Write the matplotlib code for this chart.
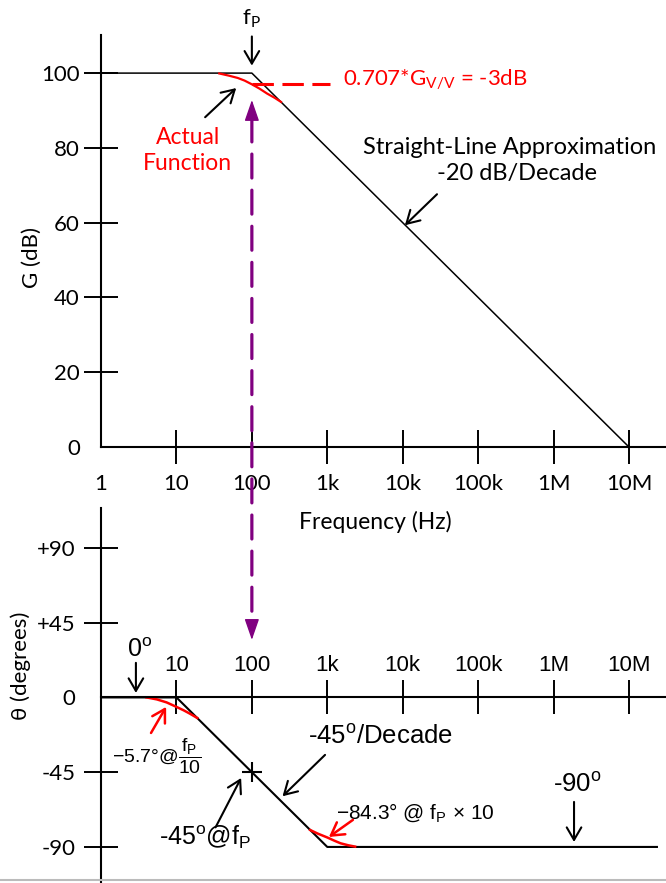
import matplotlib
matplotlib.use('Agg')
import matplotlib.pyplot as plt
from matplotlib.patches import ConnectionPatch
from matplotlib.lines import Line2D
from matplotlib.ticker import NullLocator

plt.rcParams['font.family'] = ['Lato', 'DejaVu Sans']
plt.rcParams['mathtext.fontset'] = 'custom'
plt.rcParams['mathtext.rm'] = 'Liberation Sans'
plt.rcParams['mathtext.it'] = 'Liberation Sans:italic'
plt.rcParams['mathtext.sf'] = 'Lato'

# frequency axis
freq_ticks = [1, 10, 100, 1e3, 1e4, 1e5, 1e6, 1e7]
freq_labels = ['1', '10', '100', '1k', '10k', '100k', '1M', '10M']
f_pole = 100

# magnitude: straight-line approximation and actual response near the pole
gain_ticks = [0, 20, 40, 60, 80, 100]
gain_f = [1, 100, 1e7]
gain_db = [100, 100, 0]
actual_f = [37, 50, 65, 80, 100, 125, 160, 200, 243]
actual_db = [99.9, 99.3, 98.7, 98.0, 97.0, 95.9, 94.5, 93.4, 92.3]
minus3db = 97

# phase: straight-line approximation and actual response at the corners
phase_ticks = [90, 45, 0, -45, -90]
phase_labels = ['+90', '+45', '0', '-45', '-90']
phase_f = [1, 10, 1000, 2.35e7]
phase_deg = [0, 0, -90, -90]
low_f = [4, 5.5, 7.4, 10, 12.5, 15.1, 18.9]
low_deg = [0, -1.2, -3.0, -5.7, -7.8, -9.8, -12.4]
high_f = [593, 750, 1000, 1250, 1500, 1900, 2340]
high_deg = [-79.8, -82.0, -84.3, -86.3, -87.8, -89.0, -89.8]

ARIAL = 'Liberation Sans'
red = '#ff0000'
purple = '#800080'

fig = plt.figure(figsize=(6.66, 8.83), dpi=100)
ax1 = fig.add_axes([0.1517, 0.4938, 0.8483, 0.4666])
ax2 = fig.add_axes([0.1517, 0.0, 0.8483, 0.4247])
ax2.patch.set_visible(False)

xlim = (1, 3.1e7)

# ---- magnitude plot ----
ax1.plot(gain_f, gain_db, color='black', lw=1.1)
ax1.plot(actual_f, actual_db, color=red, lw=1.6)
ax1.plot([f_pole, 1100], [minus3db, minus3db], color=red, lw=2.2, dashes=(7, 2.8))
ax1.set_xscale('log')
ax1.set_xlim(*xlim)
ax1.set_ylim(0, 110.2)
ax1.xaxis.set_minor_locator(NullLocator())
ax1.set_xticks(freq_ticks)
ax1.set_xticklabels(freq_labels, fontsize=16)
ax1.set_yticks(gain_ticks)
ax1.set_yticklabels([str(v) for v in gain_ticks], fontsize=16)
ax1.tick_params(axis='x', direction='inout', length=24.5, width=1.4, pad=7)
ax1.tick_params(axis='y', direction='inout', length=24.5, width=1.4, pad=3)
ax1.xaxis.get_major_ticks()[0].tick1line.set_visible(False)
ax1.yaxis.get_major_ticks()[0].tick1line.set_visible(False)
for s in ['top', 'right']:
    ax1.spines[s].set_visible(False)
for s in ['left', 'bottom']:
    ax1.spines[s].set_linewidth(1.5)
ax1.set_xlabel('Frequency (Hz)', fontsize=16.5)
ax1.xaxis.set_label_coords(0.485, -0.155)
ax1.set_ylabel('G (dB)', fontsize=16)
ax1.yaxis.set_label_coords(-0.104, 0.46)

arrow_black = dict(arrowstyle='->,head_length=0.6,head_width=0.35', lw=1.5,
                   color='black', mutation_scale=15, shrinkA=0, shrinkB=0)
arrow_red = dict(arrowstyle='->,head_length=0.6,head_width=0.35', lw=1.8,
                 color=red, mutation_scale=15, shrinkA=0, shrinkB=0)

ax1.text(f_pole, 114.5, 'f$_\\mathsf{P}$', fontsize=16, ha='center', va='center')
ax1.annotate('', xy=(f_pole, 102.0), xytext=(f_pole, 109.8), annotation_clip=False,
             arrowprops=arrow_black)
ax1.text(1620, 98.4, '0.707*G$_\\mathsf{V/V}$ = -3dB', color=red, fontsize=16,
         ha='left', va='center')
ax1.text(14.2, 79.4, 'Actual\nFunction', color=red, fontsize=16.5, ha='center',
         va='center', linespacing=1.3)
ax1.annotate('', xy=(62, 96.0), xytext=(24, 88.2), arrowprops=arrow_black)
ax1.text(2.65e5, 80.2, 'Straight-Line Approximation', fontsize=17, ha='center', va='center')
ax1.text(3.3e5, 73.2, '-20 dB/Decade', fontsize=17, ha='center', va='center')
ax1.annotate('', xy=(1.07e4, 59.3), xytext=(2.85e4, 67.6), arrowprops=arrow_black)

# ---- phase plot ----
ax2.plot(phase_f, phase_deg, color='black', lw=1.5)
ax2.plot(low_f, low_deg, color=red, lw=1.8)
ax2.plot(high_f, high_deg, color=red, lw=1.8)
ax2.plot([f_pole], [-45], marker='+', ms=15, mew=1.5, color='black')
ax2.set_xscale('log')
ax2.set_xlim(*xlim)
ax2.set_ylim(-111.7, 114)
ax2.xaxis.set_minor_locator(NullLocator())
ax2.spines['top'].set_position(('data', 0))
ax2.spines['bottom'].set_visible(False)
ax2.spines['right'].set_visible(False)
for s in ['left', 'top']:
    ax2.spines[s].set_linewidth(1.5)
ax2.xaxis.set_ticks_position('top')
ax2.set_xticks(freq_ticks[1:])
ax2.set_xticklabels(freq_labels[1:], fontsize=16, fontfamily=ARIAL)
ax2.set_yticks(phase_ticks)
ax2.set_yticklabels(phase_labels, fontsize=16)
ax2.tick_params(axis='x', direction='inout', length=24.5, width=1.4, pad=3)
ax2.tick_params(axis='y', direction='inout', length=24.5, width=1.4, pad=6)
ax2.yaxis.get_major_ticks()[2].tick1line.set_visible(False)
ax2.set_ylabel('θ (degrees)', fontsize=16)
ax2.yaxis.set_label_coords(-0.124, 0.58)

ax2.text(3.29, 28.6, '0$^\\mathrm{o}$', fontsize=18, fontfamily=ARIAL,
         ha='center', va='center')
ax2.annotate('', xy=(2.9, 2.7), xytext=(2.9, 20.8), arrowprops=arrow_black)
ax2.annotate('', xy=(7.3, -5.7), xytext=(4.6, -21.4), arrowprops=arrow_red)
ax2.text(5.5, -35.8, '−5.7°@$\\dfrac{\\mathrm{f}_\\mathrm{P}}{10}$', fontsize=14,
         fontfamily=ARIAL, ha='center', va='center')
ax2.annotate('', xy=(72, -48.5), xytext=(33, -78.2), arrowprops=arrow_black)
ax2.text(24, -84, '-45$^\\mathrm{o}$@f$_\\mathrm{P}$', fontsize=18, fontfamily=ARIAL,
         ha='center', va='center')
ax2.text(5.1e3, -23.8, '-45$^\\mathrm{o}$/Decade', fontsize=18.5, fontfamily=ARIAL,
         ha='center', va='center')
ax2.annotate('', xy=(255, -59.5), xytext=(934, -34.6), arrowprops=arrow_black)
ax2.text(1.45e4, -69.1, '−84.3° @ f$_\\mathrm{P}$ × 10', fontsize=15,
         fontfamily=ARIAL, ha='center', va='center')
ax2.annotate('', xy=(1050, -84.0), xytext=(2190, -73.7), arrowprops=arrow_red)
ax2.text(2.1e6, -52.7, '-90$^\\mathrm{o}$', fontsize=18.5, fontfamily=ARIAL,
         ha='center', va='center')
ax2.annotate('', xy=(1.87e6, -87.0), xytext=(1.87e6, -62.9), arrowprops=arrow_black)

# purple dashed link from the -3 dB point down to the phase plot
top_tip, top_base = 92.8, 88.0
bot_tip, bot_base = 34.6, 45.4
link = ConnectionPatch(xyA=(f_pole, top_base), coordsA=ax1.transData,
                       xyB=(f_pole, bot_base), coordsB=ax2.transData,
                       color=purple, lw=2.3, linestyle=(0, (7.5, 3.8)))
fig.add_artist(link)
head = dict(arrowstyle='-|>,head_length=1.3,head_width=0.45', color=purple,
            lw=1, mutation_scale=10, shrinkA=0, shrinkB=0)
ax1.annotate('', xy=(f_pole, top_tip), xytext=(f_pole, top_base), arrowprops=head)
ax2.annotate('', xy=(f_pole, bot_tip), xytext=(f_pole, bot_base), arrowprops=head)

fig.add_artist(Line2D([0, 1], [0.003, 0.003], transform=fig.transFigure,
                      color='#bbbbbb', lw=1.5))

fig.savefig('out.png', dpi=100)
